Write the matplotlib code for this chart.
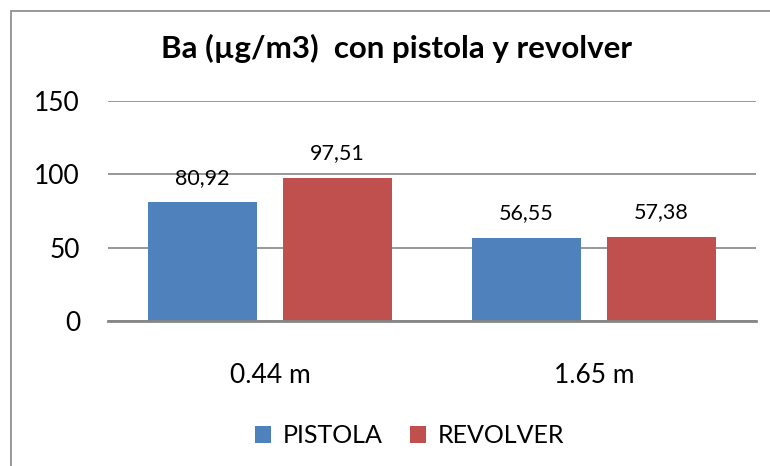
import numpy as np
import matplotlib.pyplot as plt
from matplotlib.patches import Rectangle

# Datos
categorias = ['0.44 m', '1.65 m']
pistola = [80.92, 56.55]
revolver = [97.51, 57.38]
etiquetas_pistola = ['80,92', '56,55']
etiquetas_revolver = ['97,51', '57,38']

plt.rcParams['font.family'] = ['Lato', 'DejaVu Sans']

fig = plt.figure(figsize=(7.7, 4.66), dpi=100)
ax = fig.add_axes([0.140, 0.311, 0.842, 0.472])

x = np.arange(len(categorias))
ancho = 0.335
desp = 0.208

b1 = ax.bar(x - desp, pistola, ancho, color='#4F81BD', label='PISTOLA', zorder=3)
b2 = ax.bar(x + desp, revolver, ancho, color='#C0504D', label='REVOLVER', zorder=3)

for barras, etiquetas in [(b1, etiquetas_pistola), (b2, etiquetas_revolver)]:
    for b, t in zip(barras, etiquetas):
        ax.text(b.get_x() + b.get_width() / 2, b.get_height() + 10, t,
                ha='center', va='bottom', fontsize=15.5)

ax.set_xlim(-0.5, 1.5)
ax.set_ylim(0, 150)
ax.set_yticks([0, 50, 100, 150])
ax.set_xticks(x)
ax.set_xticklabels(categorias)
ax.tick_params(axis='y', length=0, labelsize=19, pad=20)
ax.tick_params(axis='x', length=0, labelsize=19, pad=30)
ax.grid(axis='y', color='#868686', linewidth=1.2, zorder=0)
for s in ['top', 'right', 'left']:
    ax.spines[s].set_visible(False)
ax.spines['bottom'].set_color('#868686')
ax.spines['bottom'].set_linewidth(2)
ax.spines['bottom'].set_zorder(4)

fig.text(0.515, 0.895, 'Ba (µg/m3)  con pistola y revolver', ha='center', va='center',
         fontsize=22.5, fontweight='bold')

fig.legend(handles=[b1, b2], loc='center', bbox_to_anchor=(0.532, 0.065), ncol=2,
           frameon=False, fontsize=18, handlelength=0.65, handleheight=0.65,
           handletextpad=0.45, columnspacing=1.1)

# Marco del gráfico
fig.patches.append(Rectangle((11 / 770, -0.1), 1.2, 1 - 11 / 466 + 0.1,
                             transform=fig.transFigure, fill=False,
                             edgecolor='#868686', linewidth=1.2))

fig.savefig('out.png', dpi=100)
